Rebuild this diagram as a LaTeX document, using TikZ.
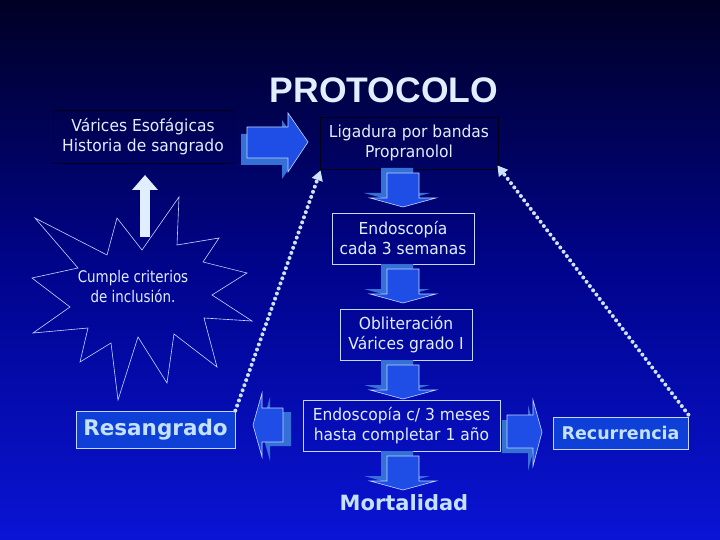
\documentclass[tikz,border=0pt]{standalone}
\usepackage{fontspec}
\usetikzlibrary{arrows.meta}
\newfontfamily\djfont{DejaVu Sans}
\newfontfamily\djnarrow[FakeStretch=0.94]{DejaVu Sans}
\newfontfamily\djcond[FakeStretch=0.84]{DejaVu Sans}
\newfontfamily\libfont{Liberation Sans}
\definecolor{bgtop}{RGB}{0,0,36}
\definecolor{bgmid}{RGB}{0,4,140}
\definecolor{bgbot}{RGB}{10,20,212}
\definecolor{txtc}{RGB}{224,238,255}
\definecolor{boldc}{RGB}{196,226,255}
\definecolor{dotc}{RGB}{205,226,255}
\definecolor{darkline}{RGB}{0,0,22}
\definecolor{lightline}{RGB}{195,215,255}
\definecolor{arrfill}{RGB}{30,78,230}
\definecolor{arrshad}{RGB}{52,112,214}
\definecolor{hlboxc}{RGB}{14,64,216}
\tikzset{
  txt/.style={text=txtc, font=\djnarrow\fontsize{16.5}{20}\selectfont, align=center},
  darkbox/.style={txt, draw=darkline, line width=0.8pt, inner sep=0pt},
  lightbox/.style={txt, draw=lightline, line width=0.7pt, inner sep=0pt},
  hlbox/.style={draw=lightline, fill=hlboxc, line width=0.7pt, inner sep=0pt, text=boldc},
  arrfront/.style={fill=arrfill, draw=lightline, line width=0.6pt, line join=miter},
  arrshadow/.style={fill=arrshad},
  dotline/.style={draw=dotc, line width=4pt, line cap=round, dash pattern=on 0pt off 5.4pt,
    -{Triangle[width=11pt,length=10pt]}},
  uparr/.style={draw=txtc, line width=10pt, -{Triangle[width=25pt,length=15pt]}},
  burst/.style={draw=lightline, line width=0.6pt, line join=miter},
}
\newcommand{\barrow}[2]{\fill[arrshadow,shift={#1}] #2 -- cycle; \path[arrfront] #2 -- cycle;}
\newcommand{\dnarrow}[2]{% #1 x center, #2 top y
  \barrow{(-6,-5)}{(#1-16,#2+5) -- (#1+16,#2+5) -- (#1+16,#2+30) -- (#1+33,#2+30) -- (#1,#2+39) -- (#1-33,#2+30) -- (#1-16,#2+30)}}
\begin{document}
\begin{tikzpicture}[x=1pt,y=-1pt]
\useasboundingbox (0,0) rectangle (720,540);
\shade[top color=bgtop, bottom color=bgbot, middle color=bgmid] (0,0) rectangle (720,540);

% title
\node[text=txtc, font=\libfont\bfseries\fontsize{35.5}{40}\selectfont] (title) at (384,90) {PROTOCOLO};

% boxes
\node[darkbox, minimum width=180pt, minimum height=53pt] (b1) at (143,136.5) {Várices Esofágicas\\Historia de sangrado};
\node[darkbox, minimum width=178pt, minimum height=52pt] (b2) at (409,143) {Ligadura por bandas\\Propranolol};
\node[lightbox, minimum width=142pt, minimum height=51pt] (b3) at (403,238.5) {Endoscopía\\cada 3 semanas};
\node[lightbox, minimum width=132pt, minimum height=51pt] (b4) at (406,334.5) {Obliteración\\Várices grado I};
\node[lightbox, minimum width=197pt, minimum height=51pt] (b5) at (401.5,425.5) {Endoscopía c/ 3 meses\\hasta completar 1 año};
\node[hlbox, minimum width=159pt, minimum height=37pt, font=\djfont\bfseries\fontsize{21.5}{24}\selectfont] (res) at (155.5,429.5) {Resangrado};
\node[hlbox, minimum width=135pt, minimum height=32pt, font=\djfont\bfseries\fontsize{17.5}{20}\selectfont] (rec) at (620.5,433) {Recurrencia};
\node[text=boldc, font=\djfont\bfseries\fontsize{21}{24}\selectfont] (mort) at (404,503) {Mortalidad};

% block arrows
\barrow{(-6,7)}{(247,127) -- (288,127) -- (288,113) -- (308,142) -- (288,172) -- (288,158) -- (247,158)}
\dnarrow{403}{168}
\dnarrow{403}{264}
\dnarrow{403}{360}
\dnarrow{403}{451}
\barrow{(8,4)}{(283,408) -- (262,408) -- (262,393) -- (253,425) -- (262,457) -- (262,442) -- (283,442)}
\barrow{(-5,5)}{(507,415) -- (533,415) -- (533,400) -- (542,432) -- (533,466) -- (533,448) -- (507,448)}

% starburst
\draw[burst] (179,197) -- (177,245) -- (219,238) -- (203,262) -- (247,273) -- (212,295)
  -- (252,321) -- (204,318) -- (217,367) -- (174,334) -- (167,383) -- (138,337)
  -- (118,400) -- (111,343) -- (80,362) -- (88,328) -- (33,333) -- (70,307)
  -- (32,278) -- (78,268) -- (35,218) -- (107,255) -- (117,218) -- (142,250) -- cycle;
\node[txt, font=\djcond\fontsize{16}{20}\selectfont] (crit) at (133,287) {Cumple criterios\\de inclusión.};

% up arrow
\coordinate (bt) at (145,237);
\coordinate (bh) at (145,175);
\draw[uparr] (bt) -- (bh);

% dotted connectors
\draw[dotline] (res.north east) -- ([shift={(1,1)}]b2.south west);
\draw[dotline] ([shift={(0,-2)}]rec.north east) -- ([shift={(-1,-4)}]b2.south east);
\end{tikzpicture}
\end{document}
